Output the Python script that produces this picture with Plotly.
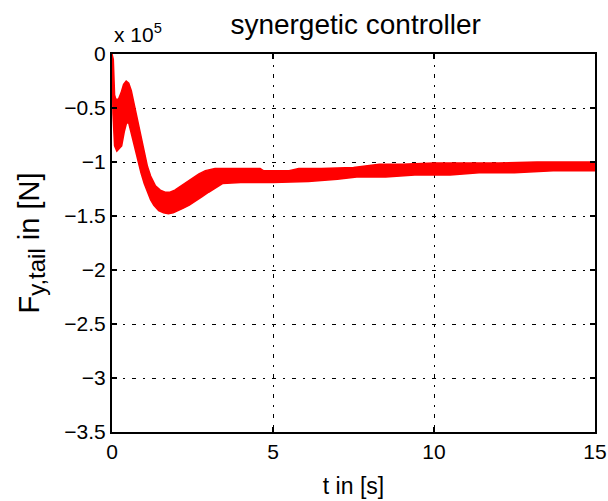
import plotly.graph_objects as go

# Upper and lower envelopes of the (rapidly oscillating) force band, in units of 1e5 N
t_upper = [0, 0.04, 0.08, 0.12, 0.2, 0.28, 0.36, 0.44, 0.52, 0.6, 0.7, 0.8, 0.9, 1.0,
           1.1, 1.2, 1.35, 1.5, 1.65, 1.8, 1.95, 2.1, 2.3, 2.5, 2.7, 2.9, 3.2, 3.6,
           4.0, 4.6, 4.7, 5.5, 5.8, 6.5, 7.5, 8.3, 9.0, 10.0, 11.0, 12.0, 13.2, 14.0, 15.0]
f_upper = [0, -0.05, -0.38, -0.42, -0.42, -0.36, -0.28, -0.25, -0.27, -0.34, -0.48, -0.62,
           -0.78, -0.92, -1.04, -1.13, -1.22, -1.26, -1.28, -1.28, -1.26, -1.23, -1.19,
           -1.15, -1.11, -1.08, -1.06, -1.06, -1.06, -1.06, -1.08, -1.08, -1.06, -1.06,
           -1.05, -1.02, -1.02, -1.01, -1.01, -1.01, -1.0, -1.0, -1.0]

t_lower = [0, 0.03, 0.08, 0.15, 0.22, 0.3, 0.38, 0.45, 0.52, 0.6, 0.7, 0.8, 0.9, 1.0,
           1.1, 1.2, 1.3, 1.45, 1.6, 1.75, 1.9, 2.05, 2.2, 2.4, 2.6, 2.8, 3.0, 3.2,
           3.43, 4.0, 5.0, 6.1, 7.0, 7.6, 8.5, 9.4, 10.5, 11.4, 12.5, 13.7, 15.0]
f_lower = [0, -0.55, -0.85, -0.9, -0.88, -0.85, -0.72, -0.64, -0.64, -0.72, -0.86, -0.98,
           -1.1, -1.2, -1.28, -1.35, -1.4, -1.45, -1.47, -1.48, -1.47, -1.45, -1.43, -1.4,
           -1.36, -1.32, -1.28, -1.24, -1.2, -1.19, -1.19, -1.18, -1.16, -1.14, -1.14,
           -1.12, -1.12, -1.10, -1.10, -1.08, -1.08]

x_ticks = [0, 5, 10, 15]
y_ticks = [0, -0.5, -1, -1.5, -2, -2.5, -3, -3.5]

title_text = "synergetic controller"
x_label = "t in [s]"
y_label = 'F<sub><span style="font-size:24px">y,tail</span></sub> in [N]'
exponent_text = "x 10<sup>5</sup>"

FONT = "Liberation Sans, Arial, Helvetica, sans-serif"

fig = go.Figure()
fig.add_trace(go.Scatter(
    x=t_upper + t_lower[::-1],
    y=f_upper + f_lower[::-1],
    mode="lines",
    fill="toself",
    fillcolor="#ff0000",
    line=dict(color="#ff0000", width=1.5),
    hoverinfo="skip",
    showlegend=False,
))

axis_common = dict(
    showline=True, linecolor="black", linewidth=2, mirror="ticks",
    ticks="inside", ticklen=5, tickcolor="black", tickwidth=1.5,
    showgrid=True, gridcolor="black", gridwidth=1.3, griddash="4px,7px,2px,7px",
    zeroline=False, automargin=False, ticklabeloverflow="allow",
    tickfont=dict(family=FONT, size=21, color="black"),
)

fig.update_layout(
    width=608, height=501,
    margin=dict(l=112, r=13, t=54, b=69),
    paper_bgcolor="white", plot_bgcolor="white",
    font=dict(family=FONT, color="black"),
    title=dict(text=title_text, x=0.585, xanchor="center", y=0.972, yanchor="top",
               font=dict(family=FONT, size=28, color="black")),
    xaxis=dict(range=[0, 15], tickvals=x_ticks, ticktext=[str(v) for v in x_ticks],
               title=dict(text=x_label, font=dict(family=FONT, size=23), standoff=16),
               **axis_common),
    yaxis=dict(range=[-3.5, 0], tickvals=y_ticks,
               title=dict(text=y_label, font=dict(family=FONT, size=29), standoff=16),
               **axis_common),
    annotations=[dict(text=exponent_text, xref="paper", yref="paper", x=0.0, y=1.0,
                      xanchor="left", yanchor="bottom", yshift=6, showarrow=False,
                      font=dict(family=FONT, size=21, color="black"))],
)

fig.write_html("out.html", config={"displayModeBar": False},
               post_script="document.body.style.margin='0px';")
